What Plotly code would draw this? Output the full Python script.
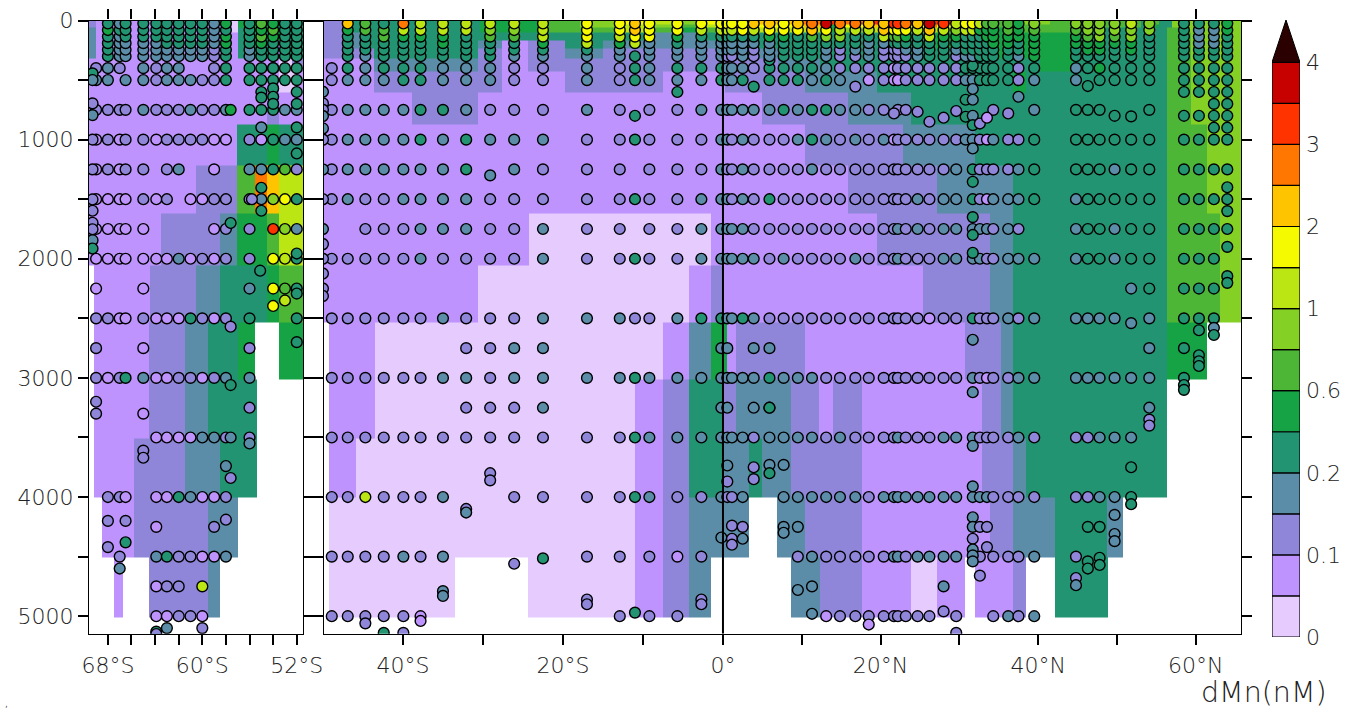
import numpy as np
import plotly.graph_objects as go

# ---------- colour levels (bottom of the legend to the top arrow) ----------
palette = ["#E6CCFE", "#BE93FD", "#8F86DA", "#5B8DA8", "#229471", "#16A345", "#4EB636",
           "#84D024", "#BBE513", "#F5FA00", "#FFC400", "#FF7700", "#FF3300", "#C70000"]
over_color = "#2B0000"
legend_labels = ["0", "0.1", "0.2", "0.6", "1", "2", "3", "4"]

# ---------- gridded field, left panel: depth edges and (end latitude, level) runs ----------
left_start = -69.6
left_end = -51.47
left_edges = [0, 60, 100, 164, 316, 432, 607, 870, 1214, 1618, 2055, 2533, 3015, 3510, 4000, 4505, 5010]
left_runs = [
    [(-69, 2), (-57.5, 1), (-57, 0), (-55.5, 5), (-54, 5), (-51.47, 4)],
    [(-69, 3), (-57.5, 1), (-57, 0), (-55.5, 4), (-54, 5), (-51.47, 4)],
    [(-69, 3), (-57, 1), (-54, 4), (-53, 5), (-51.47, 4)],
    [(-69, 3), (-57, 1), (-54, 4), (-53, 1), (-51.47, 4)],
    [(-53.5, 1), (-52.4, 0), (-51.47, 2)],
    [(-53.5, 1), (-52, 0), (-51.47, 1)],
    [(-54.5, 1), (-53.5, 2), (-51.47, 1)],
    [(-57.1, 1), (-54.5, 4), (-53.5, 5), (-51.47, 4)],
    [(-60.5, 1), (-57.1, 2), (-55.5, 6), (-54.5, 11), (-53.5, 10), (-51.47, 8)],
    [(-63.5, 1), (-58.5, 2), (-57.1, 3), (-54.5, 5), (-53.5, 6), (-51.47, 8)],
    [(-69.2, None), (-64.4, 1), (-60.5, 2), (-58.5, 3), (-54.5, 4), (-53.5, 5), (-51.47, 6)],
    [(-69.2, None), (-64.5, 1), (-61.5, 2), (-59.5, 3), (-57, 4), (-55.5, 5), (-53.5, None), (-51.47, 5)],
    [(-69.2, None), (-64.5, 1), (-61.5, 2), (-59.5, 3), (-55.4, 4), (-51.47, None)],
    [(-69.2, None), (-65.8, 1), (-61.5, 2), (-58.5, 3), (-55.4, 4), (-51.47, None)],
    [(-68.5, None), (-65.8, 1), (-59.5, 2), (-57, 3), (-51.47, None)],
    [(-67.5, None), (-66.7, 1), (-64.5, None), (-59.5, 2), (-58.5, 3), (-51.47, None)],
]

# ---------- gridded field, main panel ----------
main_start = -49.875
main_end = 65.74
main_edges = [0, 30, 60, 100, 164, 237, 316, 432, 607, 870, 1214, 1618, 2055, 2533, 3015, 3510, 4000, 4505, 5010]
main_runs = [
    [(-47.3, 2), (-30.4, 4), (-22, 5), (-17.9, 6), (-13.6, 7), (-9.9, 9), (-6.4, 8), (-3.25, 7), (1.8, 9), (3.3, 10),
     (4.4, 11), (10.3, 10), (12.8, 11), (14.5, 12), (17.9, 11), (20, 12), (25.5, 11), (28.9, 12), (30.6, 9), (33.1, 10),
     (37, 6), (41.5, 7), (49.2, 6), (49.8, 4), (51, 6), (52, 4), (53, 6), (54.3, 4), (55.3, 6), (57, 4), (65.74, 7)],
    [(-47.3, 2), (-30.4, 4), (-22, 5), (-17.9, 6), (-13.6, 7), (-9.9, 8), (-6.4, 7), (-3.25, 6), (1.8, 8), (3.3, 9),
     (4.4, 10), (10.3, 9), (12.8, 10), (14.5, 5), (17.9, 9), (23, 10), (25.5, 9), (27.2, 11), (28.9, 9), (30.6, 7),
     (33.1, 8), (49.2, 6), (49.8, 4), (51, 6), (52, 4), (53, 6), (54.3, 4), (55.3, 5), (57, 4), (65.74, 7)],
    [(-47.3, 2), (-30.4, 4), (-22, 5), (-13.6, 6), (-9.9, 8), (-6.4, 6), (-3.25, 5), (0, 6), (1.8, 7), (3.3, 8),
     (4.4, 5), (12.8, 8), (14.5, 5), (17.9, 7), (20, 8), (25.5, 7), (27.2, 8), (28.9, 7), (30.6, 5), (33.1, 6),
     (37, 5), (44.6, 6), (46, 5), (56.3, 4), (58.8, 6), (65.74, 7)],
    [(-47.3, 2), (-44, 3), (-9.9, 4), (-3.25, 3), (27, 4), (44.6, 5), (56.3, 4), (59.4, 6), (65.74, 7)],
    [(-47.3, 2), (-44, 3), (-30.6, 4), (-27.6, 3), (-24.4, 1), (-19.75, 2), (-15, 4), (0, 3), (27, 4), (44.4, 5),
     (56.3, 4), (59.4, 6), (65.74, 7)],
    [(-43.6, 2), (-30.6, 4), (-27.6, 2), (-24.4, 1), (-19.75, 2), (-15, 3), (0, 2), (8.5, 3), (33, 4), (44.4, 5),
     (56.3, 4), (59.4, 6), (65.74, 7)],
    [(-43.6, 1), (-30.6, 3), (-27.6, 2), (-24.4, 1), (7, 2), (12.3, 3), (40.2, 4), (44.4, 5), (56.3, 4), (59.4, 6),
     (65.74, 7)],
    [(-43.6, 1), (-27.6, 2), (-19.75, 1), (-7.5, 2), (0.3, 1), (10.4, 2), (19.5, 3), (36.8, 4), (38.4, 5), (56.3, 4),
     (59.4, 6), (65.74, 7)],
    [(-38.9, 1), (-30.6, 2), (4.9, 1), (15.8, 2), (23.9, 3), (56.3, 4), (59.4, 6), (65.74, 7)],
    [(10.4, 1), (22.8, 2), (32, 3), (56.3, 4), (61.4, 6), (65.74, 7)],
    [(15.8, 1), (27.2, 2), (36.8, 3), (56.3, 4), (61.4, 6), (65.74, 7)],
    [(-24.25, 1), (-1.5, 0), (19.5, 1), (33.9, 2), (36.8, 3), (56.3, 4), (63.1, 6), (65.74, 7)],
    [(-30.6, 1), (-4.25, 0), (-1.5, 1), (0, 2), (25.4, 1), (33.9, 2), (36.8, 3), (56.3, 4), (63.1, 6), (65.74, 7)],
    [(-49.25, None), (-43.5, 1), (-7.5, 0), (-4.25, 1), (-1.5, 3), (0.5, 5), (1.7, 1), (10.4, 2), (30.7, 1), (35.3, 2),
     (36.8, 3), (56.3, 4), (61.4, 5), (65.74, None)],
    [(-49.25, None), (-43.5, 1), (-11, 0), (-7.5, 1), (-4.25, 2), (0, 4), (1.7, 2), (8.6, 3), (12.15, 2), (14, 1),
     (17.6, 2), (32.9, 1), (35.3, 2), (36.8, 3), (56.3, 4), (65.74, None)],
    [(-49.25, None), (-45.9, 1), (-11, 0), (-7.5, 1), (-4.25, 2), (0, 4), (3.3, 3), (4.9, 4), (8.6, 3), (17.6, 2),
     (32.9, 1), (36.8, 2), (38.4, 3), (56.3, 4), (65.74, None)],
    [(-49.25, None), (-11, 0), (-7.5, 1), (-4.25, 2), (3.3, 3), (6.9, None), (10.4, 3), (17.6, 2), (33.9, 1), (36.8, 2),
     (42.1, 3), (48.7, 4), (50.8, 3), (65.74, None)],
    [(-49.25, None), (-33.5, 0), (-24.4, None), (-11, 0), (-7.5, 1), (-4.25, 2), (-1.5, 3), (8.6, None), (12.3, 3),
     (17.6, 2), (23.9, 1), (27.2, 0), (30.7, 1), (32, None), (36.8, 1), (38.5, 2), (42.1, None), (48.8, 4),
     (65.74, None)],
]

# ---------- bottle samples: station latitudes, colour level per depth ('.' = no sample) ----------
stack_depths = [25, 80, 135, 190, 245, 300]

left_lats = [-69, -68, -67, -66.5, -65, -63.9, -63, -62, -61, -60, -59, -58, -56, -55, -54, -53, -52]
left_stacks = ["......", "454444", "343333", "444333", "444333", "444333", "444433", "444433", "444433",
               "444433", "333322", "545544", "444433", "656544", "565444", "444444", "444444"]
left_rows = {
    400: "232.32 33..24 44444",
    500: "33.332 333224 44444",
    750: "222232 223223 44433",
    1000: "121221 222211 21433",
    1250: "12122. 23..1. 33462",
    1500: "111121 2.1122 23794",
    1750: "11111. ....12 2.c73",
    2000: "111111 131212 2.984",
    2250: "1...1. ...... 3.964",
    2500: "221121 114212 4...4",
    3000: "212431 122123 3....",
    3500: ".....1 111332 2....",
    4000: ".221.1 143112 .....",
    4500: "..2..3 422113 .....",
    4750: ".....1 22.8.. .....",
    5000: ".....1 1221.. .....",
}
left_extra_lat = [-69.3] * 12 + [-55, -52, -52, -55, -55, -57.6, -55.1, -52, -52, -54, -53, -57.6, -52, -69, -65, -56,
                                 -69, -69, -65, -56, -65, -65, -56, -58, -57.6, -57.6, -57.6, -68, -66.5, -68, -66.5,
                                 -67, -63.9, -59, -58, -63, -60, -63.9, -63.9, -54, -54, -54, -54, -52, -52, -55, -55,
                                 -57.6, -55.8]
left_extra_depth = [444, 500, 696, 794, 1000, 1250, 1502, 1597, 1698, 1752, 1844, 1914,
                    897, 897, 1116, 1404, 1597, 1700, 2100, 1956, 2292, 2396, 2350, 2570, 2700, 2750, 2750, 2750,
                    3200, 3300, 3300, 3250, 3610, 3670, 3550, 3740, 3840, 3060, 3500, 4200, 4200, 4420, 4380,
                    4600, 4250, 4250, 4190, 5100, 5100, 5130, 5150, 400, 570, 640, 700, 600, 700, 600, 647,
                    750, 1500]
left_extra_level = [4, 3, 2, 3, 2, 2, 2, 2, 2, 2, 3, 4,
                    3, 4, 4, 4, 4, 4, 4, 4, 4, 9, 8, 2, 4, 2, 1, 2,
                    2, 2, 1, 2, 2, 2, 3, 3, 2, 4, 3, 2, 2, 2, 4,
                    3, 1, 2, 2, 3, 2, 4, 2, 4, 4, 4, 4, 4, 4, 4, 4,
                    5, 2]

main_lats = [-48.9, -46.9, -44.7, -42.4, -39.95, -37.8, -35, -32.1, -29.1, -26.1, -22.5, -17, -12.9, -11, -9.2, -5.7,
             -2.7, -0.2, 0.55, 1.14, 2.5, 3.9, 5.9, 7.7, 9.5, 11.3, 13.1, 14.85, 16.8, 18.5, 20.4, 21.7, 22.2, 23.2,
             24.7, 26.2, 28, 29.6, 30.8, 31.7, 32.6, 33.5, 34.3, 36.2, 37.5, 39.5, 44.8, 46.3, 47.8, 49.7, 51.8, 54.1,
             58.5, 60.4, 62.3, 64]
main_stacks = ["......", "a54444", "664443", "466444", "b85444", "885444", "885544", "884444", "876444", "876443",
               "888543", "999843", "998533", "aa98.4", "999333", "995433", "984333", "984333",
               "984332", "984332", "994333", "a84322", "a95333", "995444", "a94444", "ba6444", "d97433", "b87422",
               "b84432", "a84333", "aa8322", "c96422", "c96422", "b95432", "a84433", "da8444", "c85444", "875432",
               "984443", "984443", "854444", "655444", "655544", "665544", "555443", "765555", "765544", "776554",
               "777554", "776544", "877554", "774444", "444444", "433344", "433344", "554444"]
main_rows = {
    400: "243444 333223 243444 333244 443222 212222 224444 442434 544444 44",
    500: "233344 333223 243334 334.44 4343.1 211222 223344 44233. 444444 44",
    750: "233334 432223 2.2233 333334 344332 2.22.. ...... 2..344 4..4.. ..",
    1000: "233334 343332 242223 323222 343232 312222 223321 322444 444444 44",
    1250: "233333 34.322 2.2223 223222 232222 222222 23.422 223444 434444 44",
    1500: "232233 332222 242233 323242 222222 222232 33.421 333434 444444 44",
    1750: "..2223 332232 2.2233 333222 222222 223232 33.333 232.34 434444 44",
    2000: "222223 222232 242233 333323 222232 223222 33.332 233334 434444 4.",
    2500: "222222 322233 322344 334322 222222 222221 22.422 232333 33.344 4.",
    3000: "222222 332333 343333 333343 332222 222222 22.321 223333 33334. ..",
    3500: "222222 222222 243333 333233 332322 223222 33.322 223222 333... ..",
    4000: "228222 3..222 243223 223..3 333332 333333 33.333 222222 334... ..",
    4500: "222232 3....2 2.212. ...... 232222 233233 33..2. 22232. ...... ..",
    5000: "222221 ...... 2.22.. ...... ...222 222222 .2.... 2323.. ...... ..",
}
main_extra_lat = [-50, -50, -50, -50, -50, -50, -50, -50, -50, -50, -50, -50, -50, -50,
                  -22.5, -26.1, -35, -35, -17, -17, -2.7, -2.7, -11, -44.7, -37.8, -42.4, -39.95, -29.1, -29.1, -32.1,
                  -32.1, -32.1, -29.1, -26.1, -22.5, -32.1, -29.1, -26.1, -22.5, -0.2, -0.2, -0.2, 0.55, 0.55, 0.55,
                  0.55, 1.14, 1.14, 1.14, 2.5, 2.5, -11, -29.1,
                  21.7, 24.7, 26.2, 28, 29.6, 30.8, 30.8, 31.7, 31.7, 31.7, 31.7, 32.6, 33.5, 36.2, 37.5, 49.7, 51.8,
                  58.5, 60.4, 62.3, 64, 62.3, 64, 62.3, 64, 58.5, 60.4, 62.3, 64, 3.9, 16.8, 46.3, 5.9, 31.7, 31.7,
                  31.7, 64, 64, 31.7, 31.7, 64, 64, 64, 31.7, 51.8, 54.1, 58.5, 60.4, 62.3, 51.8, 60.4,
                  3.9, 5.9, 31.7, 54.1, 58.5, 60.4, 60.4, 60.4, 62.3, 62.3, 58.5, 58.5,
                  3.9, 5.9, 31.7, 54.1, 54.1, 54.1, 31.7, 3.9, 5.9, 7.7, 3.9, 5.9, 31.7, 51.8, 51.8,
                  7.7, 7.7, 9.5, 31.7, 31.7, 32.6, 33.5, 46.3, 47.8, 49.7, 49.7, 49.7, 31.7,
                  31.7, 31.7, 31.7, 33.5, 46.3, 46.3, 47.8, 47.8, 32.6, 44.8, 44.8, 9.5, 11.3, 28, 11.3, 13.1, 18.5, 28,
                  29.6, 5.9, -5.7]
main_extra_depth = [598, 696, 750, 802, 906, 1000, 1250, 1500, 1750, 1877, 2000, 2124, 2250, 2312,
                    4515, 4560, 4790, 4830, 4860, 4900, 4860, 4900, 4970, 5060, 5040, 5140, 5140, 3800, 3860, 4100,
                    4130, 2750, 2750, 2750, 2750, 3250, 3250, 3250, 3250, 2750, 3250, 4340, 2750, 3250, 3735,
                    3870, 4240, 4350, 4400, 4250, 4350, 800, 1300,
                    780, 766, 850, 816, 760, 808, 665, 800, 665, 575, 878, 865, 816, 780, 640, 800, 805,
                    800, 800, 800, 800, 900, 900, 700, 700, 600, 600, 600, 600, 555, 555, 550, 332, 380, 1074,
                    1354, 1400, 1600, 1650, 1800, 1900, 2146, 2202, 1950, 2250, 2250, 2250, 2250, 2250, 2540, 2600,
                    2750, 2750, 2680, 2750, 2750, 2810, 2860, 2900, 2580, 2640, 3060, 3100,
                    3250, 3250, 3120, 3250, 3350, 3400, 3570, 3750, 3730, 3730, 3850, 3800, 3910, 3750, 4060,
                    4250, 4300, 4250, 4170, 4250, 4250, 4250, 4250, 4250, 4150, 4310, 4370, 4350,
                    4440, 4490, 4540, 4420, 4540, 4600, 4510, 4570, 4660, 4680, 4740, 4780, 4750, 4750, 4980, 5000, 5070,
                    4960, 5140, 3250, 600]
main_extra_level = [3, 2, 2, 3, 3, 2, 3, 2, 3, 2, 2, 2, 2, 2,
                    4, 2, 3, 3, 2, 2, 2, 2, 4, 2, 1, 4, 2, 2, 2, 2,
                    3, 2, 2, 3, 3, 2, 2, 2, 3, 3, 3, 3, 3, 3, 3,
                    2, 2, 2, 2, 2, 3, 4, 3,
                    2, 2, 2, 2, 2, 4, 4, 3, 3, 3, 4, 2, 1, 2, 3, 4, 4,
                    4, 4, 4, 4, 4, 4, 4, 4, 4, 4, 4, 4, 4, 2, 4, 4, 4, 3,
                    4, 4, 4, 4, 4, 4, 4, 4, 4, 3, 4, 4, 4, 4, 3, 4,
                    3, 3, 3, 3, 4, 4, 4, 4, 3, 4, 4, 4,
                    3, 4, 3, 3, 2, 2, 3, 2, 3, 3, 2, 4, 3, 4, 4,
                    3, 3, 3, 3, 3, 2, 2, 4, 4, 3, 3, 3, 2,
                    3, 3, 3, 2, 4, 4, 4, 4, 2, 2, 3, 3, 3, 3, 3, 1, 1,
                    2, 2, 4, 4]

tick_left = [-68, -66, -64, -62, -60, -58, -56, -54, -52]
tick_left_text = ["68°S", "", "", "", "60°S", "", "", "", "52°S"]
tick_main = [-40, -30, -20, -10, 0, 10, 20, 30, 40, 50, 60]
tick_main_text = ["40°S", "", "20°S", "", "0°", "", "20°N", "", "40°N", "", "60°N"]
tick_depth = [0, 500, 1000, 1500, 2000, 2500, 3000, 3500, 4000, 4500, 5000]
tick_depth_text = ["0", "", "1000", "", "2000", "", "3000", "", "4000", "", "5000"]
depth_bottom = 5147

# ---------- helpers ----------
W, H = 1351, 713
FONT = "DejaVu Sans"
TEXT = "#222222"
south_stretch = 8.0 / 7.88


def main_pos(lat):
    return lat * south_stretch if lat < 0 else lat


def grid(start, edges, runs):
    xs = sorted({start} | {e for row in runs for e, _ in row})
    z = []
    for row in runs:
        vals = []
        for a, b in zip(xs[:-1], xs[1:]):
            mid = (a + b) / 2
            level = None
            for end, lev in row:
                if mid < end:
                    level = lev
                    break
            vals.append(np.nan if level is None else level)
        z.append(vals)
    return xs, edges, z


def samples(lats, stacks, rows, ex_lat, ex_depth, ex_level):
    xs, ys, ls = [], [], []
    assert len(lats) == len(stacks)
    # deep rows first, so the shallower beads of a column lie on top
    for d, row in rows.items():
        row = row.replace(" ", "")
        assert len(row) == len(lats), (d, len(row))
        for lat, ch in zip(lats, row):
            if ch != ".":
                xs.append(lat); ys.append(d); ls.append(int(ch, 16))
    assert len(ex_lat) == len(ex_depth) == len(ex_level), (len(ex_lat), len(ex_depth), len(ex_level))
    xs += list(ex_lat); ys += list(ex_depth); ls += list(ex_level)
    for lat, stack in zip(lats, stacks):
        for d, ch in reversed(list(zip(stack_depths, stack))):
            if ch != ".":
                xs.append(lat); ys.append(d); ls.append(int(ch, 16))
    return xs, ys, ls


n = len(palette)
scale = []
for i, c in enumerate(palette):
    scale += [[i / n, c], [(i + 1) / n, c]]

fig = go.Figure()


def add_panel(xs, edges, z, sx, sy, sl, xref, yref):
    fig.add_trace(go.Heatmap(x=xs, y=edges, z=z, zmin=-0.5, zmax=n - 0.5, colorscale=scale, showscale=False,
                             hoverinfo="skip", xaxis=xref, yaxis=yref))
    fig.add_trace(go.Scatter(x=sx, y=sy, mode="markers", xaxis=xref, yaxis=yref, hoverinfo="skip", showlegend=False,
                             marker=dict(size=10.8, color=[palette[l] for l in sl],
                                         line=dict(color="#000000", width=1.4))))


lx, ly, lz = grid(left_start, left_edges, left_runs)
sx, sy, sl = samples(left_lats, left_stacks, left_rows, left_extra_lat, left_extra_depth, left_extra_level)
add_panel(lx, ly, lz, sx, sy, sl, "x", "y")

mx, my, mz = grid(main_start, main_edges, main_runs)
sx, sy, sl = samples(main_lats, main_stacks, main_rows, main_extra_lat, main_extra_depth, main_extra_level)
add_panel([main_pos(v) for v in mx], my, mz, [main_pos(v) for v in sx], sy, sl, "x2", "y2")
fig.add_trace(go.Scatter(x=[0, 0], y=[0, depth_bottom], mode="lines", line=dict(color="#000000", width=2),
                         xaxis="x2", yaxis="y2", hoverinfo="skip", showlegend=False))

# legend as its own small axis
fig.add_trace(go.Bar(x=[0] * n, y=[1] * n, base=list(range(n)), width=1, xaxis="x3", yaxis="y3",
                     marker=dict(color=palette, line=dict(color="#000000", width=1.2)),
                     hoverinfo="skip", showlegend=False))
fig.add_trace(go.Scatter(x=[-0.5, 0, 0.5, -0.5], y=[n, n + 1.03, n, n], mode="lines", fill="toself",
                         fillcolor=over_color, line=dict(color="#000000", width=1), xaxis="x3", yaxis="y3",
                         hoverinfo="skip", showlegend=False))


def dom_x(a, b):
    return [a / W, b / W]


def dom_y(top, bottom):
    return [1 - bottom / H, 1 - top / H]


tickfont = dict(family=FONT, size=22, color=TEXT, weight=200)
axis_common = dict(showgrid=False, zeroline=False, showline=True, linecolor="#000000", linewidth=1.4,
                   ticks="outside", ticklen=10, tickwidth=1.5, tickcolor="#000000", mirror="ticks",
                   tickfont=tickfont, tickmode="array", automargin=False)

fig.update_layout(
    width=W, height=H, margin=dict(l=0, r=0, t=0, b=0), paper_bgcolor="white", plot_bgcolor="white",
    showlegend=False, barmode="overlay",
    xaxis=dict(domain=dom_x(89, 303), range=[left_start, left_end], tickvals=tick_left, ticktext=tick_left_text,
               anchor="y", ticklabelstandoff=2, **axis_common),
    yaxis=dict(domain=dom_y(20.5, 633.7), range=[depth_bottom, 0], tickvals=tick_depth, ticktext=tick_depth_text,
               anchor="x", **axis_common),
    xaxis2=dict(domain=dom_x(324, 1241), range=[-50.63, main_end], ticklabelstandoff=2,
                tickvals=[main_pos(v) for v in tick_main], ticktext=tick_main_text, anchor="y2", **axis_common),
    yaxis2=dict(domain=dom_y(20.5, 633.7), range=[depth_bottom, 0], tickvals=tick_depth,
                ticktext=[""] * len(tick_depth), anchor="x2", **axis_common),
    xaxis3=dict(domain=dom_x(1272, 1300), range=[-0.5, 0.5], visible=False, anchor="y3", automargin=False),
    yaxis3=dict(domain=dom_y(20, 637), range=[0, n + 1.03], side="right", anchor="x3", showgrid=False, zeroline=False,
                showline=False, ticks="", tickmode="array", tickvals=list(range(0, n + 1, 2)),
                ticktext=legend_labels, tickfont=tickfont, ticklabelstandoff=5, automargin=False),
    annotations=[
        dict(text="dMn(nM)", xref="paper", yref="paper", x=1329 / W, y=1 - 692 / H, xanchor="right", yanchor="middle",
             showarrow=False, font=dict(family=FONT, size=28.5, color=TEXT, weight=200)),
        dict(text=",", xref="paper", yref="paper", x=6 / W, y=1 - 704 / H, xanchor="center", yanchor="middle",
             showarrow=False, font=dict(family=FONT, size=9, color="#555555")),
    ],
)

fig.write_html("out.html", config={"displayModeBar": False}, post_script="document.body.style.margin='0';")
